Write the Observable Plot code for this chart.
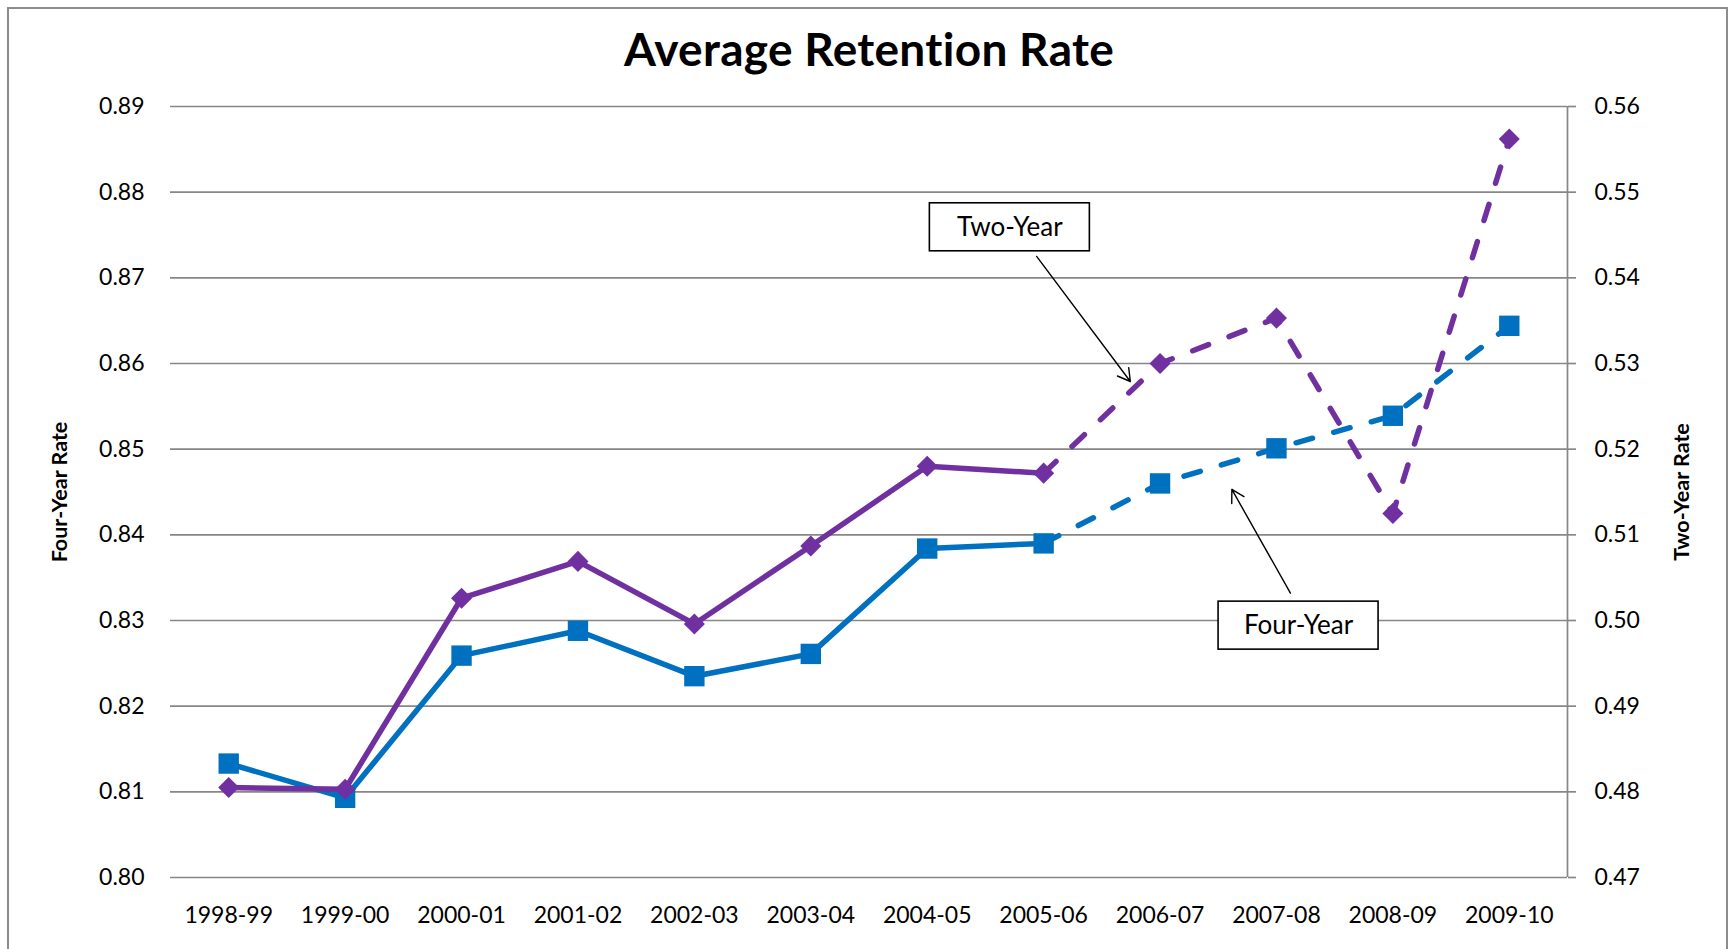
<!DOCTYPE html>
<html>
<head>
<meta charset="utf-8">
<script src="https://cdn.jsdelivr.net/npm/d3@7"></script>
<script src="https://cdn.jsdelivr.net/npm/@observablehq/plot@0.6"></script>
<style>
  html, body { margin: 0; padding: 0; background: #fff; }
  #page { position: relative; width: 1733px; height: 949px; overflow: hidden; background: #fff; }
  #border { position: absolute; left: 7px; top: 7px; width: 1721px; height: 980px; border: 2px solid #8c8c8c; box-sizing: border-box; pointer-events: none; z-index: 5; }
  #title { height: 90px; box-sizing: border-box; padding-top: 26px; padding-left: 5px; font: bold 46px Lato, "Open Sans", sans-serif; line-height: 46px; text-align: center; color: #000; letter-spacing: 0.3px; }
  #chart svg { display: block; }
</style>
</head>
<body>
<div id="page">
  <div id="border"></div>
  <div id="title">Average Retention Rate</div>
  <div id="chart"></div>
</div>
<script>
// ---- data ----
const categories = ["1998-99","1999-00","2000-01","2001-02","2002-03","2003-04","2004-05","2005-06","2006-07","2007-08","2008-09","2009-10"];
const fourYear = [0.8133, 0.8093, 0.8259, 0.8288, 0.8235, 0.8261, 0.8384, 0.8390, 0.8460, 0.8501, 0.8539, 0.8644];
const twoYear  = [0.4805, 0.4803, 0.5026, 0.5069, 0.4996, 0.5087, 0.5180, 0.5172, 0.5300, 0.5353, 0.5125, 0.5562];
const leftTicks  = [0.80, 0.81, 0.82, 0.83, 0.84, 0.85, 0.86, 0.87, 0.88, 0.89];
const rightTicks = [0.47, 0.48, 0.49, 0.50, 0.51, 0.52, 0.53, 0.54, 0.55, 0.56];
const projectedFrom = "2005-06";   // dashed segment starts here
const leftTitle = "Four-Year Rate";
const rightTitle = "Two-Year Rate";
// callouts: label box centre and arrow, in category-index / four-year-rate units
const callouts = [
  {label: "Two-Year",  bx: 6.71, by: 0.8759, ax1: 6.94, ay1: 0.8725, ax2: 7.745, ay2: 0.8579},
  {label: "Four-Year", bx: 9.19, by: 0.8294, ax1: 9.12, ay1: 0.8332, ax2: 8.617, ay2: 0.8453}
];

// ---- styles ----
const BLUE = "#0070C0", PURPLE = "#7030A0", GRID = "#878787";
const FONT = "Lato, 'Open Sans', sans-serif";

// map the right (two-year) axis onto the left (four-year) scale
const toLeft = d3.scaleLinear()
  .domain([rightTicks[0], rightTicks[rightTicks.length - 1]])
  .range([leftTicks[0], leftTicks[leftTicks.length - 1]]);

const idx = categories.map((_, i) => i);
const pIdx = categories.indexOf(projectedFrom);
const solid = idx.filter(i => i <= pIdx);
const dashed = idx.filter(i => i >= pIdx);
const dash = {strokeDasharray: "17,22", strokeLinecap: "round"};
const LW = 5.5;

const chart = Plot.plot({
  width: 1733,
  height: 859,
  marginLeft: 170,
  marginRight: 166,
  marginTop: 16,
  marginBottom: 72,
  style: {fontFamily: FONT, fontSize: "23px", color: "#000", background: "transparent"},
  x: {type: "linear", domain: [-0.5, categories.length - 0.5], label: null},
  y: {type: "linear", domain: [leftTicks[0], leftTicks[leftTicks.length - 1]], label: null},
  marks: [
    Plot.ruleY(leftTicks, {stroke: GRID, strokeWidth: 1.7}),
    Plot.ruleX([categories.length - 0.5], {stroke: GRID, strokeWidth: 1.7}),
    Plot.axisY(leftTicks, {anchor: "left", tickSize: 0, tickPadding: 26, tickFormat: d => d.toFixed(2), label: null, fontSize: 23}),
    Plot.axisY(leftTicks, {anchor: "right", tickSize: 8, tickPadding: 19, stroke: GRID, strokeWidth: 1.7,
      tickFormat: d => toLeft.invert(d).toFixed(2), label: null, fontSize: 23}),
    Plot.axisX(idx, {anchor: "bottom", tickSize: 0, tickPadding: 29, tickFormat: i => categories[i], label: null, fontSize: 23}),
    Plot.text([leftTitle], {frameAnchor: "left", textAnchor: "middle", dx: -110, rotate: -90, fontWeight: "bold", fontSize: 21.5, text: d => d}),
    Plot.text([rightTitle], {frameAnchor: "right", textAnchor: "middle", dx: 115, rotate: -90, fontWeight: "bold", fontSize: 21.5, text: d => d}),
    // four-year series
    Plot.line(solid, {x: i => i, y: i => fourYear[i], stroke: BLUE, strokeWidth: LW}),
    Plot.line(dashed, {x: i => i, y: i => fourYear[i], stroke: BLUE, strokeWidth: LW, ...dash}),
    Plot.dot(idx, {x: i => i, y: i => fourYear[i], symbol: "square", r: 11.5, fill: BLUE}),
    // two-year series (right axis)
    Plot.line(solid, {x: i => i, y: i => toLeft(twoYear[i]), stroke: PURPLE, strokeWidth: LW}),
    Plot.line(dashed, {x: i => i, y: i => toLeft(twoYear[i]), stroke: PURPLE, strokeWidth: LW, ...dash}),
    Plot.dot(idx, {x: i => i, y: i => toLeft(twoYear[i]), symbol: "diamond2", r: 9.5, fill: PURPLE}),
    // callouts
    Plot.arrow(callouts, {x1: "ax1", y1: "ay1", x2: "ax2", y2: "ay2", stroke: "#000", strokeWidth: 1.4, headLength: 15, headAngle: 60}),
    Plot.rect(callouts, {x1: "bx", x2: "bx", y1: "by", y2: "by", insetLeft: -80, insetRight: -80, insetTop: -24, insetBottom: -24,
      fill: "#fff", stroke: "#000", strokeWidth: 1.6}),
    Plot.text(callouts, {x: "bx", y: "by", text: "label", fontSize: 26, fill: "#000", letterSpacing: "1px"})
  ]
});
document.getElementById("chart").appendChild(chart);
</script>
</body>
</html>
